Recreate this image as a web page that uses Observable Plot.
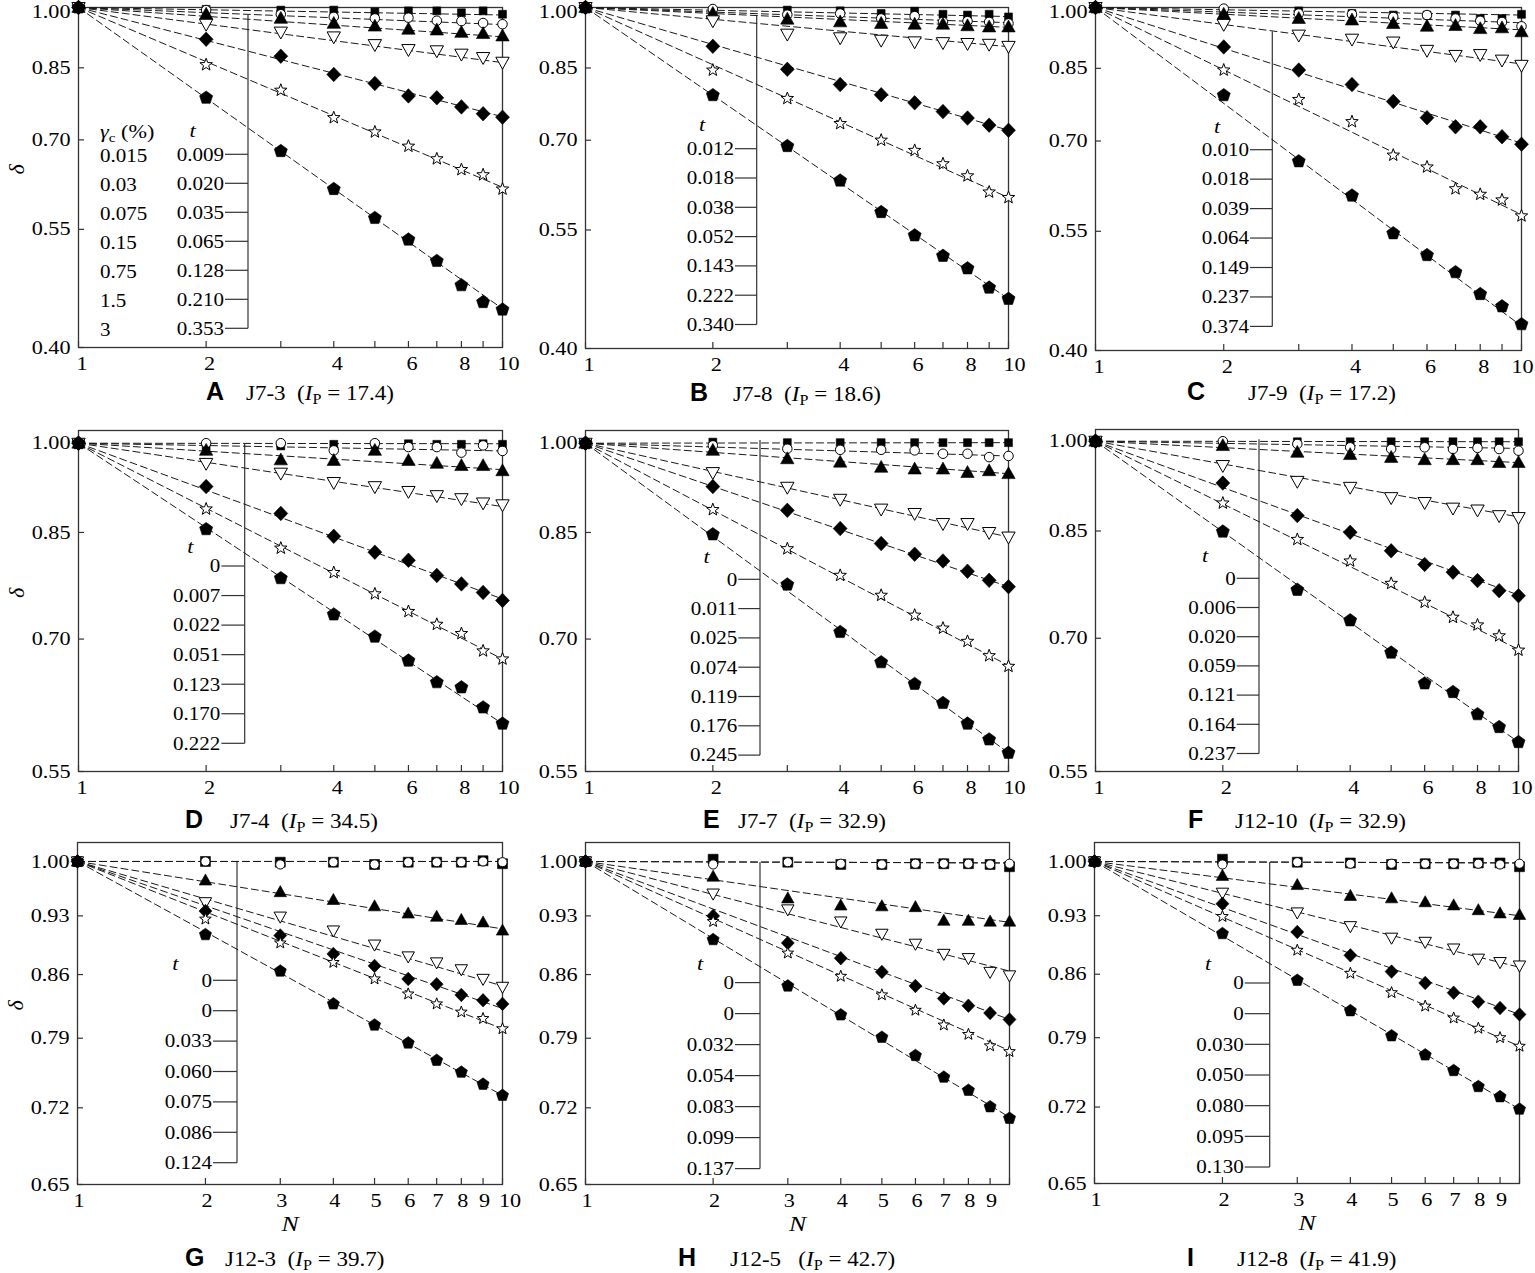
<!DOCTYPE html>
<html><head><meta charset="utf-8">
<script src="https://cdn.jsdelivr.net/npm/d3@7"></script>
<script src="https://cdn.jsdelivr.net/npm/@observablehq/plot@0.6"></script>
<style>
html,body{margin:0;padding:0;background:#fff;overflow:hidden;}
#page{position:relative;width:1535px;height:1273px;overflow:hidden;background:#fff;}
.panel{position:absolute;}
.letter{position:absolute;font-family:"Liberation Sans",Arial,sans-serif;font-weight:bold;font-size:25px;line-height:25px;white-space:nowrap;color:#000;}
.captext{position:absolute;font-family:"Liberation Serif","Times New Roman",serif;font-size:20px;line-height:20px;white-space:pre;transform:scaleX(1.15);transform-origin:0 0;color:#000;}
.captext .sub{font-size:14px;position:relative;top:4px;font-style:normal;}
</style></head><body><div id="page"></div>
<script>
// ---------------- DATA ----------------
const N = [1, 2, 3, 4, 5, 6, 7, 8, 9, 10];
const panelLetters = ["A", "B", "C", "D", "E", "F", "G", "H", "I"];
const specimens = ["J7-3", "J7-8", "J7-9", "J7-4", "J7-7", "J12-10", "J12-3", "J12-5", "J12-8"];
const IpValues = ["17.4", "18.6", "17.2", "34.5", "32.9", "32.9", "39.7", "42.7", "41.9"];
const gammaC = ["0.015", "0.03", "0.075", "0.15", "0.75", "1.5", "3"];
const yTicksRow1 = [0.40, 0.55, 0.70, 0.85, 1.00];
const yTicksRow2 = [0.55, 0.70, 0.85, 1.00];
const yTicksRow3 = [0.65, 0.72, 0.79, 0.86, 0.93, 1.00];
const xTicks = [1, 2, 3, 4, 5, 6, 7, 8, 9, 10];
const xLabelsTop = [1, 2, 4, 6, 8];
const xLabelsBottom = [1, 2, 3, 4, 5, 6, 7, 8, 9];

// legend t values
const tA = ["0.009", "0.020", "0.035", "0.065", "0.128", "0.210", "0.353"];
const tB = ["0.012", "0.018", "0.038", "0.052", "0.143", "0.222", "0.340"];
const tC = ["0.010", "0.018", "0.039", "0.064", "0.149", "0.237", "0.374"];
const tD = ["0", "0.007", "0.022", "0.051", "0.123", "0.170", "0.222"];
const tE = ["0", "0.011", "0.025", "0.074", "0.119", "0.176", "0.245"];
const tF = ["0", "0.006", "0.020", "0.059", "0.121", "0.164", "0.237"];
const tG = ["0", "0", "0.033", "0.060", "0.075", "0.086", "0.124"];
const tH = ["0", "0", "0.032", "0.054", "0.083", "0.099", "0.137"];
const tI = ["0", "0", "0.030", "0.050", "0.080", "0.095", "0.130"];

// delta values at N = 1..10, series order: 0.015, 0.03, 0.075, 0.15, 0.75, 1.5, 3 (%)
const dA = [
  [1, 0.995, 0.993, 0.993, 0.988, 0.991, 0.991, 0.986, 0.991, 0.982],
  [1, 0.993, 0.982, 0.975, 0.971, 0.973, 0.965, 0.964, 0.959, 0.956],
  [1, 0.982, 0.971, 0.958, 0.951, 0.943, 0.941, 0.935, 0.932, 0.926],
  [1, 0.956, 0.936, 0.924, 0.905, 0.893, 0.890, 0.882, 0.874, 0.863],
  [1, 0.918, 0.877, 0.835, 0.815, 0.788, 0.784, 0.765, 0.751, 0.744],
  [1, 0.857, 0.800, 0.743, 0.715, 0.688, 0.665, 0.646, 0.637, 0.613],
  [1, 0.784, 0.679, 0.613, 0.567, 0.535, 0.505, 0.473, 0.452, 0.443]
];
const dB = [
  [1, 0.988, 0.993, 0.991, 0.984, 0.990, 0.982, 0.980, 0.982, 0.975],
  [1, 0.996, 0.981, 0.984, 0.971, 0.977, 0.962, 0.964, 0.962, 0.958],
  [1, 0.984, 0.969, 0.962, 0.958, 0.956, 0.956, 0.952, 0.949, 0.949],
  [1, 0.965, 0.931, 0.922, 0.916, 0.912, 0.910, 0.908, 0.906, 0.901],
  [1, 0.901, 0.847, 0.813, 0.791, 0.774, 0.756, 0.743, 0.729, 0.719],
  [1, 0.845, 0.783, 0.732, 0.700, 0.681, 0.657, 0.636, 0.609, 0.600],
  [1, 0.790, 0.689, 0.628, 0.577, 0.542, 0.513, 0.496, 0.471, 0.457]
];
const dC = [
  [1, 0.988, 0.991, 0.984, 0.980, 0.980, 0.980, 0.971, 0.971, 0.982],
  [1, 0.997, 0.984, 0.982, 0.975, 0.980, 0.971, 0.965, 0.962, 0.951],
  [1, 0.982, 0.971, 0.967, 0.958, 0.951, 0.953, 0.945, 0.947, 0.937],
  [1, 0.956, 0.929, 0.919, 0.912, 0.892, 0.880, 0.882, 0.869, 0.857],
  [1, 0.900, 0.846, 0.814, 0.778, 0.745, 0.727, 0.727, 0.708, 0.694],
  [1, 0.846, 0.782, 0.737, 0.674, 0.653, 0.616, 0.607, 0.598, 0.573],
  [1, 0.791, 0.663, 0.605, 0.547, 0.516, 0.493, 0.465, 0.450, 0.429]
];
const dD = [
  [1, 0.995, 0.995, 0.998, 0.998, 0.999, 0.998, 0.998, 0.999, 0.998],
  [1, 1.000, 1.000, 0.987, 1.000, 0.993, 0.993, 0.983, 0.996, 0.986],
  [1, 0.987, 0.970, 0.969, 0.987, 0.969, 0.964, 0.960, 0.960, 0.951],
  [1, 0.964, 0.947, 0.931, 0.924, 0.916, 0.909, 0.904, 0.897, 0.894],
  [1, 0.924, 0.880, 0.844, 0.820, 0.808, 0.786, 0.774, 0.762, 0.751],
  [1, 0.887, 0.826, 0.790, 0.760, 0.736, 0.719, 0.707, 0.685, 0.675],
  [1, 0.855, 0.782, 0.732, 0.703, 0.673, 0.647, 0.641, 0.618, 0.600]
];
const dE = [
  [1, 1.002, 1.001, 1.001, 1.001, 1.001, 1.001, 1.001, 1.001, 1.001],
  [1, 0.996, 0.990, 0.988, 0.988, 0.987, 0.981, 0.981, 0.975, 0.977],
  [1, 0.987, 0.972, 0.966, 0.957, 0.954, 0.954, 0.948, 0.951, 0.946],
  [1, 0.948, 0.923, 0.903, 0.887, 0.880, 0.864, 0.864, 0.850, 0.843],
  [1, 0.924, 0.885, 0.856, 0.833, 0.817, 0.807, 0.792, 0.779, 0.770],
  [1, 0.886, 0.825, 0.786, 0.758, 0.731, 0.714, 0.697, 0.679, 0.666],
  [1, 0.847, 0.773, 0.709, 0.671, 0.645, 0.623, 0.600, 0.583, 0.569]
];
const dF = [
  [1, 0.996, 0.999, 0.999, 0.999, 0.999, 0.999, 0.999, 0.999, 0.999],
  [1, 1.000, 0.995, 0.989, 0.986, 0.989, 0.986, 0.988, 0.986, 0.983],
  [1, 0.992, 0.980, 0.976, 0.971, 0.967, 0.967, 0.967, 0.962, 0.962],
  [1, 0.957, 0.930, 0.920, 0.903, 0.895, 0.886, 0.883, 0.874, 0.871],
  [1, 0.927, 0.874, 0.848, 0.820, 0.800, 0.789, 0.777, 0.763, 0.756],
  [1, 0.894, 0.837, 0.805, 0.773, 0.747, 0.727, 0.717, 0.703, 0.685],
  [1, 0.849, 0.764, 0.723, 0.682, 0.645, 0.635, 0.610, 0.596, 0.580]
];
const dG = [
  [1, 1.000, 0.999, 0.999, 0.996, 0.999, 0.999, 0.999, 1.001, 0.997],
  [1, 1.000, 0.996, 0.999, 0.996, 0.999, 0.999, 0.999, 1.000, 0.999],
  [1, 0.975, 0.960, 0.950, 0.942, 0.933, 0.929, 0.925, 0.922, 0.912],
  [1, 0.947, 0.929, 0.912, 0.895, 0.881, 0.874, 0.866, 0.855, 0.846],
  [1, 0.936, 0.906, 0.884, 0.870, 0.855, 0.849, 0.837, 0.831, 0.827],
  [1, 0.926, 0.897, 0.874, 0.855, 0.838, 0.827, 0.818, 0.811, 0.800],
  [1, 0.907, 0.864, 0.827, 0.804, 0.785, 0.767, 0.755, 0.743, 0.732]
];
const dH = [
  [1, 1.003, 0.999, 0.996, 0.996, 0.997, 0.997, 0.997, 0.996, 0.993],
  [1, 0.996, 0.999, 0.997, 0.996, 0.997, 0.997, 0.997, 0.996, 0.997],
  [1, 0.980, 0.952, 0.943, 0.942, 0.941, 0.924, 0.924, 0.923, 0.923],
  [1, 0.958, 0.938, 0.923, 0.908, 0.896, 0.884, 0.879, 0.863, 0.859],
  [1, 0.930, 0.897, 0.879, 0.863, 0.847, 0.833, 0.825, 0.817, 0.810],
  [1, 0.923, 0.885, 0.858, 0.837, 0.820, 0.804, 0.794, 0.782, 0.776],
  [1, 0.901, 0.847, 0.815, 0.791, 0.772, 0.750, 0.737, 0.721, 0.710]
];
const dI = [
  [1, 1.003, 0.999, 0.998, 0.996, 0.997, 0.997, 0.998, 0.998, 0.993],
  [1, 0.996, 0.999, 0.997, 0.997, 0.997, 0.997, 0.997, 0.996, 0.997],
  [1, 0.981, 0.969, 0.955, 0.952, 0.947, 0.943, 0.937, 0.933, 0.931],
  [1, 0.959, 0.934, 0.917, 0.903, 0.898, 0.890, 0.878, 0.874, 0.870],
  [1, 0.945, 0.910, 0.882, 0.863, 0.850, 0.839, 0.829, 0.822, 0.815],
  [1, 0.929, 0.888, 0.861, 0.839, 0.824, 0.811, 0.800, 0.790, 0.781],
  [1, 0.908, 0.853, 0.819, 0.792, 0.772, 0.756, 0.740, 0.730, 0.718]
];

// fitted dashed lines: delta of each line at N = 10 (all start at N = 1, delta = 1)
const eA = [0.980, 0.955, 0.924, 0.862, 0.745, 0.616, 0.444];
const eB = [0.976, 0.960, 0.948, 0.900, 0.719, 0.600, 0.457];
const eC = [0.980, 0.960, 0.942, 0.860, 0.696, 0.575, 0.427];
const eD = [0.999, 0.986, 0.953, 0.891, 0.753, 0.675, 0.600];
const eE = [1.001, 0.977, 0.946, 0.843, 0.770, 0.667, 0.569];
const eF = [0.999, 0.987, 0.962, 0.872, 0.757, 0.686, 0.580];
const eG = [1.000, 1.000, 0.914, 0.847, 0.822, 0.800, 0.732];
const eH = [0.998, 0.998, 0.922, 0.864, 0.810, 0.777, 0.711];
const eI = [0.998, 0.998, 0.930, 0.868, 0.815, 0.781, 0.718];

// ---------------- STYLE / LAYOUT ----------------
const SERIF = "'Liberation Serif','Times New Roman',Times,serif";
const INK = "#333";
const STRETCH = 1.17;
const Rr = s => Math.sqrt(s / Math.PI);
function makeSquare(f) { return {draw(c, s) { const r = Rr(s) * f; c.moveTo(-r, -r); c.lineTo(r, -r); c.lineTo(r, r); c.lineTo(-r, r); c.closePath(); }}; }
function makeCircle(f) { return {draw(c, s) { const r = Rr(s) * f; c.moveTo(r, 0); c.arc(0, 0, r, 0, 2 * Math.PI); c.closePath(); }}; }
const symTriUp = {draw(c, s) { const r = Rr(s); c.moveTo(0, -1.2 * r); c.lineTo(1.15 * r, 0.85 * r); c.lineTo(-1.15 * r, 0.85 * r); c.closePath(); }};
const symTriDown = {draw(c, s) { const r = Rr(s); c.moveTo(0, 1.2 * r); c.lineTo(1.15 * r, -0.85 * r); c.lineTo(-1.15 * r, -0.85 * r); c.closePath(); }};
const symDiamond = {draw(c, s) { const r = Rr(s); c.moveTo(0, -1.25 * r); c.lineTo(1.2 * r, 0); c.lineTo(0, 1.25 * r); c.lineTo(-1.2 * r, 0); c.closePath(); }};
const symStar = {draw(c, s) { const r = Rr(s); const ro = 1.13 * r, ri = 0.47 * r;
  for (let k = 0; k < 10; k++) { const a = -Math.PI / 2 + k * Math.PI / 5, rr = k % 2 ? ri : ro; const x = rr * Math.cos(a), y = rr * Math.sin(a); if (k) c.lineTo(x, y); else c.moveTo(x, y); } c.closePath(); }};
const symPent = {draw(c, s) { const r = Rr(s) * 1.18;
  for (let k = 0; k < 5; k++) { const a = -Math.PI / 2 + k * 2 * Math.PI / 5; const x = r * Math.cos(a), y = r * Math.sin(a); if (k) c.lineTo(x, y); else c.moveTo(x, y); } c.closePath(); }};
function seriesStyle(row) {
  return [
    {symbol: makeSquare(row === 2 ? 0.92 : 0.68), fill: "#000", sw: 0.6},
    {symbol: makeCircle(row === 2 ? 0.85 : 0.82), fill: "#fff", sw: 1},
    {symbol: symTriUp, fill: "#000", sw: 0.6},
    {symbol: symTriDown, fill: "#fff", sw: 1},
    {symbol: symDiamond, fill: "#000", sw: 0.6},
    {symbol: symStar, fill: "#fff", sw: 1},
    {symbol: symPent, fill: "#000", sw: 0.6}
  ];
}

const panels = [
  {i: 0, delta: dA, ends: eA, t: tA, L: 78, T: 7, R: 502, B: 347, yTicks: yTicksRow1, yDomain: [0.40, 1.00], row: 0, gamma: true, first: true, tenDx: 6,
   lg: {bx: 170, top: 8, row0: 147.3, gap: 29, tl: 23, tx: 114.7, ty: 123, gx: 22, gy: 124.7}, cap: {l: 206, t: 246, y: 400}, sp: "  "},
  {i: 1, delta: dB, ends: eB, t: tB, L: 585, T: 7, R: 1008, B: 348, yTicks: yTicksRow1, yDomain: [0.40, 1.00], row: 0, tenDx: 6,
   lg: {bx: 171.7, top: 8, row0: 141.7, gap: 29.3, tl: 21.7, tx: 117, ty: 117.7}, cap: {l: 690, t: 733, y: 401}, sp: "  "},
  {i: 2, delta: dC, ends: eC, t: tC, L: 1095, T: 7, R: 1521, B: 350, yTicks: yTicksRow1, yDomain: [0.40, 1.00], row: 0, tenDx: 1,
   lg: {bx: 177.3, top: 24.4, row0: 142.7, gap: 29.45, tl: 22.3, tx: 122, ty: 119.7}, cap: {l: 1187, t: 1248, y: 400}, sp: "  "},
  {i: 3, delta: dD, ends: eD, t: tD, L: 78, T: 430, R: 502, B: 771, yTicks: yTicksRow2, yDomain: [0.55, 1.0234], row: 1, first: true, tenDx: 6,
   lg: {bx: 166.7, top: 14, row0: 136, gap: 29.55, tl: 23.3, tx: 112.4, ty: 116.7}, cap: {l: 185, t: 230, y: 828}, sp: "  "},
  {i: 4, delta: dE, ends: eE, t: tE, L: 585, T: 430, R: 1008, B: 771, yTicks: yTicksRow2, yDomain: [0.55, 1.0234], row: 1, tenDx: 6,
   lg: {bx: 175, top: 10, row0: 149.3, gap: 29.3, tl: 21.7, tx: 121.7, ty: 126.7}, cap: {l: 703, t: 738, y: 828}, sp: "  "},
  {i: 5, delta: dF, ends: eF, t: tF, L: 1095, T: 429, R: 1518, B: 771, yTicks: yTicksRow2, yDomain: [0.55, 1.0214], row: 1, tenDx: 3,
   lg: {bx: 164, top: 10.3, row0: 149.3, gap: 29.2, tl: 22.3, tx: 110, ty: 126}, cap: {l: 1188, t: 1235, y: 828}, sp: "  "},
  {i: 6, delta: dG, ends: eG, t: tG, L: 77, T: 842, R: 502, B: 1184, yTicks: yTicksRow3, yDomain: [0.65, 1.0256], row: 2, first: true, ten: true, tenDx: 7.5,
   lg: {bx: 160, top: 20, row0: 138.3, gap: 30.4, tl: 24, tx: 98.3, ty: 121.6}, cap: {l: 185, t: 225, y: 1266}, sp: "  "},
  {i: 7, delta: dH, ends: eH, t: tH, L: 585, T: 842, R: 1009, B: 1184, yTicks: yTicksRow3, yDomain: [0.65, 1.0256], row: 2,
   lg: {bx: 175, top: 20, row0: 140.6, gap: 31, tl: 25, tx: 115, ty: 121.6}, cap: {l: 678, t: 730, y: 1266}, sp: "   "},
  {i: 8, delta: dI, ends: eI, t: tI, L: 1094, T: 842, R: 1519, B: 1183, yTicks: yTicksRow3, yDomain: [0.65, 1.0257], row: 2,
   lg: {bx: 175.7, top: 20, row0: 141, gap: 30.67, tl: 25, tx: 114, ty: 121.6}, cap: {l: 1187, t: 1237, y: 1266}, sp: "  "}
];

function makeLegend(p, mL, mT) {
  return () => {
    const lg = p.lg;
    const g = d3.create("svg:g").attr("font-family", SERIF).attr("fill", "#000");
    const bx = mL + lg.bx;
    const ys = p.t.map((_, i) => mT + lg.row0 + i * lg.gap);
    g.append("line").attr("x1", bx).attr("x2", bx).attr("y1", mT + lg.top).attr("y2", ys[ys.length - 1])
      .attr("stroke", INK).attr("stroke-width", 1.2);
    p.t.forEach((v, i) => {
      g.append("line").attr("x1", bx - lg.tl).attr("x2", bx).attr("y1", ys[i]).attr("y2", ys[i])
        .attr("stroke", INK).attr("stroke-width", 1.2);
      g.append("text").attr("transform", `translate(${bx - lg.tl - 1},${ys[i]})`)
        .attr("text-anchor", "end").attr("dy", "0.35em").attr("font-size", 18).text(v);
    });
    g.append("text").attr("transform", `translate(${mL + lg.tx},${mT + lg.ty})`)
      .attr("text-anchor", "middle").attr("dy", "0.35em").attr("font-size", 19).attr("font-style", "italic").text("t");
    if (p.gamma) {
      const gx = mL + lg.gx;
      const hdr = g.append("text").attr("transform", `translate(${gx},${mT + lg.gy})`)
        .attr("text-anchor", "start").attr("dy", "0.35em").attr("font-size", 19);
      hdr.append("tspan").attr("font-style", "italic").text("γ");
      hdr.append("tspan").attr("font-size", 13).attr("dy", 4).text("c");
      hdr.append("tspan").attr("dy", -4).text(" (%)");
      gammaC.forEach((v, i) => {
        g.append("text").attr("transform", `translate(${gx},${ys[i] + 1.5})`)
          .attr("text-anchor", "start").attr("dy", "0.35em").attr("font-size", 18).text(v);
      });
    }
    return g.node();
  };
}

const page = document.getElementById("page");
const mL = 80, mT = 12, mR = 30, mB = 52;

panels.forEach(p => {
  const fw = p.R - p.L, fh = p.B - p.T;
  const width = fw + mL + mR, height = fh + mT + mB;
  const rDot = p.row === 2 ? 5.4 : 5.8;
  const lines = [];
  p.ends.forEach((e, s) => { lines.push({s, N: N[0], d: 1}, {s, N: N[N.length - 1], d: e}); });
  const xl = p.row === 2 ? xLabelsBottom : xLabelsTop;
  const topTick = p.yTicks[p.yTicks.length - 1];
  const otherTicks = p.yTicks.slice(0, -1);
  const marks = [
    Plot.frame({stroke: INK, strokeWidth: 1.3}),
    Plot.tickY(p.yTicks, {y: d => d, insetRight: fw - 6, stroke: INK, strokeWidth: 1.2}),
    Plot.tickX(xTicks, {x: d => d, insetTop: fh - 6, stroke: INK, strokeWidth: 1.2}),
    Plot.text(otherTicks, {y: d => d, frameAnchor: "left", dx: -8, textAnchor: "end", lineAnchor: "middle", text: d => d.toFixed(2), fontSize: 19}),
    Plot.text([topTick], {y: d => d, frameAnchor: "left", dx: -8, dy: p.row === 0 ? 4 : 0, textAnchor: "end", lineAnchor: "middle", text: d => d.toFixed(2), fontSize: 19}),
    Plot.text(xl, {x: d => d, frameAnchor: "bottom", dy: 16, dx: p.row === 2 ? 1.5 : 3.5, lineAnchor: "middle", text: d => String(d), fontSize: 19})
  ];
  if (p.row !== 2 || p.ten) {
    marks.push(Plot.text([10], {x: d => d, frameAnchor: "bottom", dy: 16, dx: p.tenDx, lineAnchor: "middle", text: d => String(d), fontSize: 19}));
  }
  if (p.row === 2) {
    marks.push(Plot.text(["N"], {frameAnchor: "bottom", dy: 39, lineAnchor: "middle", text: d => d, fontSize: 22, fontStyle: "italic"}));
  }
  if (p.first) {
    marks.push(Plot.text(["δ"], {frameAnchor: "left", dx: -62, dy: -8, rotate: -90, textAnchor: "middle", lineAnchor: "middle", text: d => d, fontSize: 22, fontStyle: "italic"}));
  }
  marks.push(makeLegend(p, mL, mT));
  marks.push(Plot.line(lines, {x: "N", y: "d", z: "s", stroke: "#1a1a1a", strokeWidth: 1, strokeDasharray: "7,4"}));
  seriesStyle(p.row).forEach((st, s) => {
    const pts = p.delta[s].map((v, k) => ({N: N[k], d: v}));
    marks.push(Plot.dot(pts, {x: "N", y: "d", symbol: st.symbol, r: rDot, fill: st.fill, stroke: "#000", strokeWidth: st.sw}));
  });

  const svg = Plot.plot({
    width, height,
    marginLeft: mL, marginTop: mT, marginRight: mR, marginBottom: mB,
    x: {type: "log", domain: [1, 10], axis: null},
    y: {type: "log", domain: p.yDomain, axis: null},
    style: {background: "transparent", overflow: "visible", maxWidth: "none", fontFamily: SERIF, fontSize: "19px", color: "#000"},
    marks
  });
  svg.style.background = "transparent";
  svg.style.overflow = "visible";
  svg.style.maxWidth = "none";
  svg.querySelectorAll("text").forEach(t => {
    const tr = t.getAttribute("transform");
    if (tr && !tr.includes("rotate")) t.setAttribute("transform", tr + ` scale(${STRETCH},1)`);
  });
  const div = document.createElement("div");
  div.className = "panel";
  div.style.left = (p.L - mL) + "px";
  div.style.top = (p.T - mT) + "px";
  div.style.width = width + "px";
  div.style.height = height + "px";
  div.appendChild(svg);
  page.appendChild(div);

  const letter = document.createElement("div");
  letter.className = "letter";
  letter.style.left = p.cap.l + "px";
  letter.style.top = (p.cap.y - 0.8465 * 25) + "px";
  letter.textContent = panelLetters[p.i];
  page.appendChild(letter);

  const ct = document.createElement("div");
  ct.className = "captext";
  ct.style.left = p.cap.t + "px";
  ct.style.top = (p.cap.y - 0.8375 * 20) + "px";
  ct.innerHTML = `${specimens[p.i]}${p.sp}(<i>I</i><span class="sub">P</span> = ${IpValues[p.i]})`;
  page.appendChild(ct);
});
</script></body></html>
